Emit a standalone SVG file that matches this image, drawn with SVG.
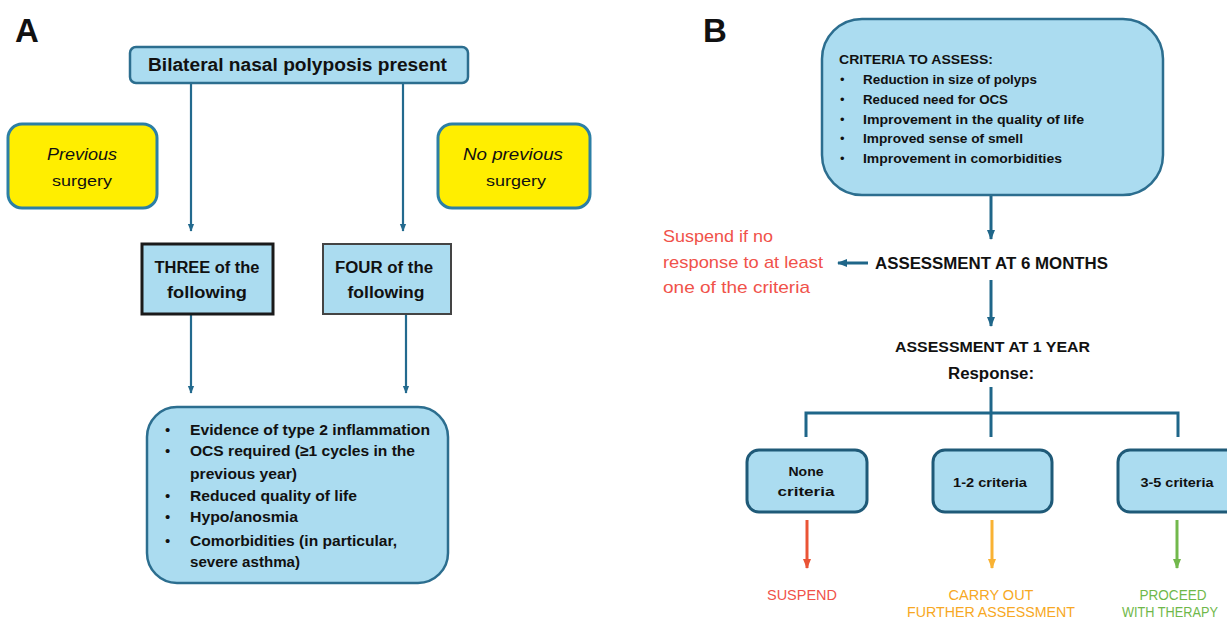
<svg xmlns="http://www.w3.org/2000/svg" width="1227" height="623" viewBox="0 0 1227 623">
  <style>
    text { font-family: "Liberation Sans", Arial, sans-serif; fill: #111; }
    .panel { font-size: 33px; font-weight: bold; }
    .b { font-weight: bold; }
    .box { fill: #abdcf0; stroke: #2c6e8f; stroke-width: 2.5; }
    .boxB { fill: #abdcf0; stroke: #1f5a78; stroke-width: 3; }
    .yel { fill: #ffee00; stroke: #2c7fa5; stroke-width: 3; }
    .conn { fill: none; stroke: #236a8e; stroke-width: 2.2; }
    .connB { fill: none; stroke: #1f6689; stroke-width: 3; }
    .red { fill: #f0524a; }
    .org { fill: #f7a823; }
    .grn { fill: #6fb84a; }
  </style>
  <defs>
    <marker id="ah" viewBox="0 0 10 10" refX="9" refY="5" markerWidth="8" markerHeight="8" markerUnits="userSpaceOnUse" orient="auto">
      <path d="M0,1 L10,5 L0,9 z" fill="#236a8e"/>
    </marker>
    <marker id="ahB" viewBox="0 0 10 10" refX="9" refY="5" markerWidth="10" markerHeight="10" markerUnits="userSpaceOnUse" orient="auto">
      <path d="M0,1 L10,5 L0,9 z" fill="#1f6689"/>
    </marker>
    <marker id="ahR" viewBox="0 0 10 10" refX="9" refY="5" markerWidth="10" markerHeight="10" markerUnits="userSpaceOnUse" orient="auto">
      <path d="M0,1 L10,5 L0,9 z" fill="#ea5436"/>
    </marker>
    <marker id="ahO" viewBox="0 0 10 10" refX="9" refY="5" markerWidth="10" markerHeight="10" markerUnits="userSpaceOnUse" orient="auto">
      <path d="M0,1 L10,5 L0,9 z" fill="#f9b233"/>
    </marker>
    <marker id="ahG" viewBox="0 0 10 10" refX="9" refY="5" markerWidth="10" markerHeight="10" markerUnits="userSpaceOnUse" orient="auto">
      <path d="M0,1 L10,5 L0,9 z" fill="#72b84c"/>
    </marker>
  </defs>

  <!-- Panel labels -->
  <text class="panel" x="15" y="42">A</text>
  <text class="panel" x="703" y="42">B</text>

  <!-- Connectors -->
  <g id="connectors">
    <!-- panel A -->
    <line class="conn" x1="191" y1="83" x2="191" y2="231" marker-end="url(#ah)"/>
    <line class="conn" x1="403" y1="83" x2="403" y2="231" marker-end="url(#ah)"/>
    <line class="conn" x1="191" y1="315" x2="191" y2="393" marker-end="url(#ah)"/>
    <line class="conn" x1="406" y1="315" x2="406" y2="393" marker-end="url(#ah)"/>
    <!-- panel B -->
    <line class="connB" x1="991" y1="196" x2="991" y2="239" marker-end="url(#ahB)"/>
    <line class="connB" x1="868" y1="263" x2="838" y2="263" marker-end="url(#ahB)"/>
    <line class="connB" x1="991" y1="280" x2="991" y2="326" marker-end="url(#ahB)"/>
    <line class="connB" x1="991" y1="387" x2="991" y2="437"/>
    <path class="connB" d="M806,437 V413 H1178 V437"/>
    <line fill="none" stroke="#ea5436" stroke-width="3" x1="807" y1="520" x2="807" y2="568" marker-end="url(#ahR)"/>
    <line fill="none" stroke="#f9b233" stroke-width="3" x1="992" y1="520" x2="992" y2="568" marker-end="url(#ahO)"/>
    <line fill="none" stroke="#72b84c" stroke-width="3" x1="1177" y1="520" x2="1177" y2="568" marker-end="url(#ahG)"/>
  </g>

  <!-- Panel A nodes -->
  <g id="polyposis">
    <rect class="box" x="130" y="47" width="338" height="36" rx="6"/>
    <text class="b" x="148" y="71" font-size="18" textLength="299" lengthAdjust="spacingAndGlyphs">Bilateral nasal polyposis present</text>
  </g>
  <g id="previous-surgery">
    <rect class="yel" x="8" y="124" width="149" height="84" rx="14"/>
    <text x="82" y="160" font-size="17" font-style="italic" text-anchor="middle" textLength="70" lengthAdjust="spacingAndGlyphs">Previous</text>
    <text x="82" y="186" font-size="14" text-anchor="middle" textLength="60" lengthAdjust="spacingAndGlyphs">surgery</text>
  </g>
  <g id="no-previous-surgery">
    <rect class="yel" x="438" y="124" width="152" height="84" rx="14"/>
    <text x="513" y="160" font-size="17" font-style="italic" text-anchor="middle" textLength="100" lengthAdjust="spacingAndGlyphs">No previous</text>
    <text x="516" y="186" font-size="14" text-anchor="middle" textLength="60" lengthAdjust="spacingAndGlyphs">surgery</text>
  </g>
  <g id="three-of">
    <rect x="142" y="244" width="131" height="70" fill="#abdcf0" stroke="#1a1a1a" stroke-width="3"/>
    <text class="b" x="207" y="273" font-size="16" text-anchor="middle" textLength="105" lengthAdjust="spacingAndGlyphs">THREE of the</text>
    <text class="b" x="207" y="298" font-size="16" text-anchor="middle" textLength="80" lengthAdjust="spacingAndGlyphs">following</text>
  </g>
  <g id="four-of">
    <rect x="323" y="244" width="128" height="70" fill="#abdcf0" stroke="#444" stroke-width="2"/>
    <text class="b" x="384" y="273" font-size="16" text-anchor="middle" textLength="98" lengthAdjust="spacingAndGlyphs">FOUR of the</text>
    <text class="b" x="386" y="298" font-size="16" text-anchor="middle" textLength="77" lengthAdjust="spacingAndGlyphs">following</text>
  </g>
  <g id="criteria-list">
    <rect class="box" x="147" y="407" width="301" height="176" rx="30"/>
    <g font-size="15">
      <text x="165" y="435">•</text>
      <text x="165" y="456">•</text>
      <text x="165" y="501">•</text>
      <text x="165" y="522">•</text>
      <text x="165" y="546">•</text>
    </g>
    <g class="b" font-size="15">
      <text class="b" x="190" y="435" textLength="240" lengthAdjust="spacingAndGlyphs">Evidence of type 2 inflammation</text>
      <text class="b" x="190" y="456" textLength="225" lengthAdjust="spacingAndGlyphs">OCS required (≥1 cycles in the</text>
      <text class="b" x="190" y="479" textLength="107" lengthAdjust="spacingAndGlyphs">previous year)</text>
      <text class="b" x="190" y="501" textLength="167" lengthAdjust="spacingAndGlyphs">Reduced quality of life</text>
      <text class="b" x="190" y="522" textLength="108" lengthAdjust="spacingAndGlyphs">Hypo/anosmia</text>
      <text class="b" x="190" y="546" textLength="207" lengthAdjust="spacingAndGlyphs">Comorbidities (in particular,</text>
      <text class="b" x="190" y="567" textLength="110" lengthAdjust="spacingAndGlyphs">severe asthma)</text>
    </g>
  </g>

  <!-- Panel B nodes -->
  <g id="criteria-to-assess">
    <rect class="box" x="822" y="19" width="341" height="176" rx="40"/>
    <text class="b" x="839" y="64" font-size="13" textLength="154" lengthAdjust="spacingAndGlyphs">CRITERIA TO ASSESS:</text>
    <g font-size="13">
      <text x="840" y="84">•</text>
      <text x="840" y="104">•</text>
      <text x="840" y="124">•</text>
      <text x="840" y="143">•</text>
      <text x="840" y="163">•</text>
    </g>
    <g font-size="13">
      <text class="b" x="863" y="84" textLength="174" lengthAdjust="spacingAndGlyphs">Reduction in size of polyps</text>
      <text class="b" x="863" y="104" textLength="145" lengthAdjust="spacingAndGlyphs">Reduced need for OCS</text>
      <text class="b" x="863" y="124" textLength="221" lengthAdjust="spacingAndGlyphs">Improvement in the quality of life</text>
      <text class="b" x="863" y="143" textLength="160" lengthAdjust="spacingAndGlyphs">Improved sense of smell</text>
      <text class="b" x="863" y="163" textLength="199" lengthAdjust="spacingAndGlyphs">Improvement in comorbidities</text>
    </g>
  </g>
  <g id="suspend-note">
    <text class="red" x="663" y="242" font-size="17" textLength="110" lengthAdjust="spacingAndGlyphs">Suspend if no</text>
    <text class="red" x="663" y="268" font-size="17" textLength="160" lengthAdjust="spacingAndGlyphs">response to at least</text>
    <text class="red" x="663" y="293" font-size="17" textLength="147" lengthAdjust="spacingAndGlyphs">one of the criteria</text>
  </g>
  <g id="assessment-6-months">
    <text class="b" x="875" y="269" font-size="16" textLength="233" lengthAdjust="spacingAndGlyphs">ASSESSMENT AT 6 MONTHS</text>
  </g>
  <g id="assessment-1-year">
    <text class="b" x="895" y="352" font-size="14" textLength="195" lengthAdjust="spacingAndGlyphs">ASSESSMENT AT 1 YEAR</text>
    <text class="b" x="948" y="379" font-size="16" textLength="86" lengthAdjust="spacingAndGlyphs">Response:</text>
  </g>
  <g id="none-criteria">
    <rect class="boxB" x="747" y="450" width="120" height="62" rx="12"/>
    <text class="b" x="806" y="476" font-size="13" text-anchor="middle" textLength="35" lengthAdjust="spacingAndGlyphs">None</text>
    <text class="b" x="806" y="496" font-size="13" text-anchor="middle" textLength="57" lengthAdjust="spacingAndGlyphs">criteria</text>
  </g>
  <g id="one-two-criteria">
    <rect class="boxB" x="933" y="450" width="119" height="62" rx="12"/>
    <text class="b" x="990" y="487" font-size="13" text-anchor="middle" textLength="74" lengthAdjust="spacingAndGlyphs">1-2 criteria</text>
  </g>
  <g id="three-five-criteria">
    <rect class="boxB" x="1118" y="450" width="130" height="62" rx="12"/>
    <text class="b" x="1177" y="487" font-size="13" text-anchor="middle" textLength="73" lengthAdjust="spacingAndGlyphs">3-5 criteria</text>
  </g>
  <g id="suspend">
    <text class="red" x="802" y="600" font-size="14" text-anchor="middle" textLength="70" lengthAdjust="spacingAndGlyphs">SUSPEND</text>
  </g>
  <g id="further-assessment">
    <text class="org" x="991" y="600" font-size="14" text-anchor="middle" textLength="85" lengthAdjust="spacingAndGlyphs">CARRY OUT</text>
    <text class="org" x="991" y="617" font-size="14" text-anchor="middle" textLength="168" lengthAdjust="spacingAndGlyphs">FURTHER ASSESSMENT</text>
  </g>
  <g id="proceed">
    <text class="grn" x="1173" y="600" font-size="14" text-anchor="middle" textLength="67" lengthAdjust="spacingAndGlyphs">PROCEED</text>
    <text class="grn" x="1170" y="617" font-size="14" text-anchor="middle" textLength="96" lengthAdjust="spacingAndGlyphs">WITH THERAPY</text>
  </g>
</svg>
